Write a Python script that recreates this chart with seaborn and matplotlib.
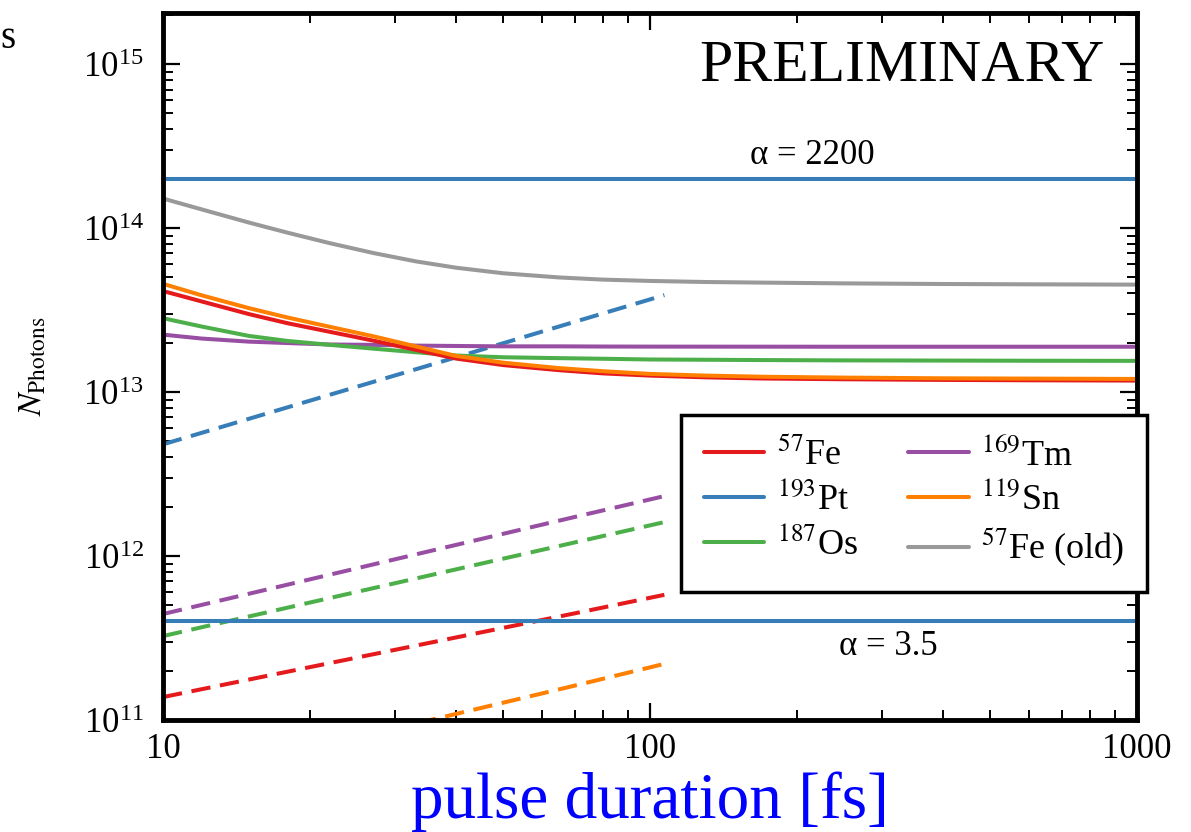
import numpy as np
import pandas as pd
import matplotlib
matplotlib.use('Agg')
import matplotlib.pyplot as plt
import matplotlib.ticker as ticker
import seaborn as sns

# pulse duration grid [fs] for the solid curves
tau = [10, 12, 15, 18, 22, 27, 33, 40, 50, 65, 80, 100, 130, 170, 250, 400, 600, 1000]

fe57 = [4.13e13, 3.57e13, 2.99e13, 2.63e13, 2.33e13, 2.06e13, 1.81e13, 1.60e13, 1.46e13,
        1.36e13, 1.30e13, 1.26e13, 1.23e13, 1.21e13, 1.197e13, 1.186e13, 1.18e13, 1.175e13]
sn119 = [4.57e13, 3.89e13, 3.25e13, 2.85e13, 2.50e13, 2.19e13, 1.90e13, 1.66e13, 1.51e13,
         1.40e13, 1.34e13, 1.29e13, 1.26e13, 1.24e13, 1.225e13, 1.213e13, 1.208e13, 1.202e13]
os187 = [2.82e13, 2.51e13, 2.20e13, 2.05e13, 1.94e13, 1.84e13, 1.75e13, 1.67e13, 1.63e13,
         1.61e13, 1.596e13, 1.58e13, 1.574e13, 1.567e13, 1.56e13, 1.556e13, 1.552e13, 1.55e13]
tm169 = [2.24e13, 2.12e13, 2.03e13, 1.99e13, 1.95e13, 1.94e13, 1.92e13, 1.91e13, 1.90e13,
         1.90e13, 1.895e13, 1.893e13, 1.892e13, 1.891e13, 1.89e13, 1.89e13, 1.89e13, 1.89e13]
fe57_old = [1.514e14, 1.30e14, 1.081e14, 9.38e13, 8.09e13, 7.05e13, 6.27e13, 5.73e13, 5.30e13,
            5.0e13, 4.85e13, 4.76e13, 4.69e13, 4.65e13, 4.60e13, 4.56e13, 4.54e13, 4.52e13]

# 193Pt constant levels
pt_tau = [10, 1000]
pt_high = [2.0e14, 2.0e14]   # alpha = 2200
pt_low = [4.0e11, 4.0e11]    # alpha = 3.5

# dashed curves
tau_d = [10, 20, 40, 70, 107]
pt_d = [4.8e12, 8.85e12, 1.63e13, 2.68e13, 3.9e13]
tm_d = [4.43e11, 7.2e11, 1.17e12, 1.73e12, 2.32e12]
os_d = [3.25e11, 5.2e11, 8.3e11, 1.21e12, 1.61e12]
fe_d = [1.38e11, 2.1e11, 3.19e11, 4.47e11, 5.8e11]
sn_d = [4.1e10, 6.7e10, 1.09e11, 1.62e11, 2.2e11]

labels = [r'$^{57}$Fe', r'$^{193}$Pt', r'$^{187}$Os', r'$^{169}$Tm', r'$^{119}$Sn', r'$^{57}$Fe (old)']

sns.set_theme(style='ticks')
plt.rcParams['font.family'] = ['Liberation Serif', 'DejaVu Serif']
plt.rcParams['mathtext.fontset'] = 'stix'
for k in ['text.color', 'axes.labelcolor', 'xtick.color', 'ytick.color', 'axes.edgecolor']:
    plt.rcParams[k] = 'black'

pal = sns.color_palette('Set1')
c_fe, c_pt, c_os, c_tm, c_sn, c_old = pal[0], pal[1], pal[2], pal[3], pal[4], pal[8]

fig = plt.figure(figsize=(11.91, 8.32), dpi=100)
ax = fig.add_axes([0.1369, 0.1346, 0.8178, 0.8498])

lw = 2.9
dash = (0, (4.8, 2.4))

# dashed lines first
for xs, ys, c in [(tau_d, pt_d, c_pt), (tau_d, tm_d, c_tm), (tau_d, os_d, c_os),
                  (tau_d, fe_d, c_fe), (tau_d, sn_d, c_sn)]:
    sns.lineplot(x=xs, y=ys, color=c, lw=lw, linestyle=dash, ax=ax)

sns.lineplot(x=pt_tau, y=pt_high, color=c_pt, lw=lw, ax=ax)
sns.lineplot(x=pt_tau, y=pt_low, color=c_pt, lw=lw, ax=ax)
sns.lineplot(x=tau, y=fe57_old, color=c_old, lw=lw, ax=ax)
sns.lineplot(x=tau, y=tm169, color=c_tm, lw=lw, ax=ax)
sns.lineplot(x=tau, y=os187, color=c_os, lw=lw, ax=ax)
sns.lineplot(x=tau, y=fe57, color=c_fe, lw=lw, ax=ax)
sns.lineplot(x=tau, y=sn119, color=c_sn, lw=lw, ax=ax)

ax.set(xscale='log', yscale='log')
ax.set_xlim(10, 1000)
ax.set_ylim(1e11, 2.05e15)

ax.xaxis.set_major_formatter(ticker.FuncFormatter(lambda v, p: f'{v:g}'))
ax.xaxis.set_minor_formatter(ticker.NullFormatter())
ax.yaxis.set_major_locator(ticker.LogLocator(base=10, numticks=10))
ax.yaxis.set_minor_locator(ticker.LogLocator(base=10, subs=np.arange(2, 10), numticks=20))
ax.yaxis.set_minor_formatter(ticker.NullFormatter())

ax.tick_params(which='both', direction='in', top=True, right=True, labelsize=25, colors='black')
ax.tick_params(which='major', length=12, width=1.6)
ax.tick_params(which='minor', length=7, width=1.4)
ax.tick_params(axis='x', which='major', pad=9)
ax.tick_params(axis='y', which='major', pad=14)
for s in ax.spines.values():
    s.set_linewidth(3.5)
    s.set_color('black')

ax.set_xlabel('pulse duration [fs]', fontsize=47, color='#0000ff', labelpad=4)
ax.set_ylabel(r'$N_{\mathrm{Photons}}$', fontsize=24, color='black')
ax.yaxis.set_label_coords(-0.118, 0.5)

ax.text(0.967, 0.962, 'PRELIMINARY', transform=ax.transAxes, ha='right', va='top',
        fontsize=43, color='black')
ax.text(215, 2.2e14, 'α = 2200', ha='center', va='bottom', fontsize=25, color='black')
ax.text(308, 3.55e11, 'α = 3.5', ha='center', va='top', fontsize=25, color='black')
fig.text(0.0, 1 - 48 / 832, 's', fontsize=28, ha='left', va='baseline', color='black')

handles = [plt.Line2D([], [], color=c, lw=lw) for c in [c_fe, c_pt, c_os, c_tm, c_sn, c_old]]
leg = ax.legend(handles, labels, ncol=2, loc='upper right', bbox_to_anchor=(1.010, 0.431),
                borderaxespad=0, fontsize=26, frameon=True, fancybox=False,
                handlelength=1.67, handletextpad=0.35, columnspacing=1.4, labelspacing=0.27,
                borderpad=0.62)
leg.get_frame().set_edgecolor('black')
leg.get_frame().set_linewidth(2.5)
leg.get_frame().set_alpha(1)
for t in leg.get_texts():
    t.set_color('black')

fig.savefig('out.png', dpi=100)
